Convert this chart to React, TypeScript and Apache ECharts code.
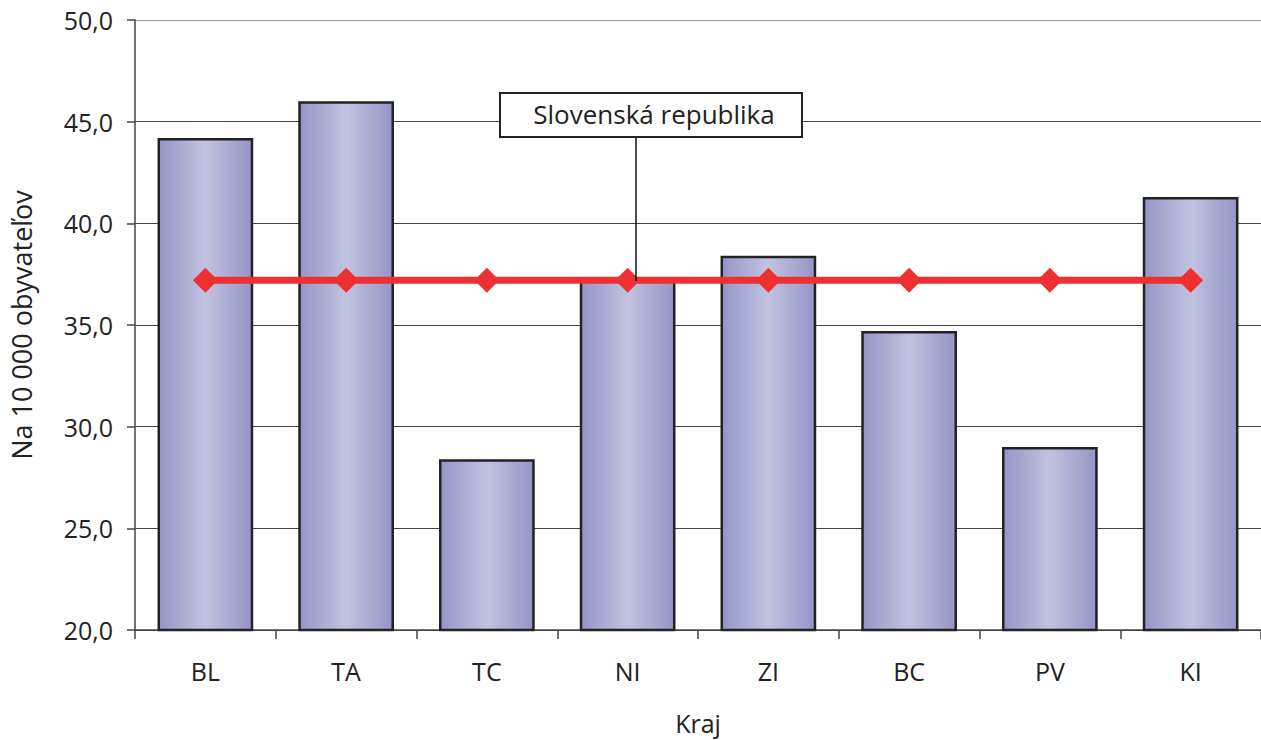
import React, { useEffect, useRef } from "react";
import * as echarts from "echarts";

const categories = ["BL", "TA", "TC", "NI", "ZI", "BC", "PV", "KI"];
const regionValues = [44.2, 46.0, 28.4, 37.3, 38.4, 34.7, 29.0, 41.3];
const slovakiaValue = 37.2;
const slovakiaValues = categories.map(() => slovakiaValue);
const annotationLabel = "Slovenská republika";

const FONT = "'Open Sans', 'Noto Sans', sans-serif";

export default function App() {
  const ref = useRef<HTMLDivElement>(null);
  useEffect(() => {
    if (!ref.current) return;
    document.body.style.margin = "0";
    const chart = echarts.init(ref.current, null, { renderer: "svg" });
    const barGradient = new echarts.graphic.LinearGradient(0, 0, 1, 0, [
      { offset: 0, color: "#9495c7" },
      { offset: 0.5, color: "#c2c2e0" },
      { offset: 1, color: "#9495c7" },
    ]);
    chart.setOption({
      animation: false,
      backgroundColor: "#ffffff",
      grid: { left: 134, right: 0, top: 20, bottom: 108, containLabel: false },
      xAxis: {
        type: "category",
        data: categories,
        name: "Kraj",
        nameLocation: "middle",
        nameGap: 80,
        nameTextStyle: { fontFamily: FONT, fontSize: 25, color: "#222" },
        axisLine: { show: true, lineStyle: { color: "#444", width: 1.5 } },
        axisTick: { show: true, alignWithLabel: false, length: 9, lineStyle: { color: "#444", width: 1.5 } },
        axisLabel: { fontFamily: FONT, fontSize: 25, color: "#222", margin: 28 },
        splitLine: { show: false },
      },
      yAxis: {
        type: "value",
        min: 20,
        max: 50,
        interval: 5,
        name: "Na 10 000 obyvateľov",
        nameLocation: "middle",
        nameGap: 100,
        nameTextStyle: { fontFamily: FONT, fontSize: 27, color: "#222" },
        axisLine: { show: true, lineStyle: { color: "#444", width: 1.5 } },
        axisTick: { show: true, length: 8, lineStyle: { color: "#444", width: 1.5 } },
        axisLabel: {
          fontFamily: FONT,
          fontSize: 25,
          color: "#222",
          margin: 22,
          formatter: (v: number) => v.toFixed(1).replace(".", ","),
        },
        splitLine: {
          show: true,
          lineStyle: {
            color: ["#444", "#444", "#444", "#444", "#444", "#444", "#999"],
            width: 1,
          },
        },
      },
      series: [
        {
          type: "bar",
          data: regionValues,
          barCategoryGap: "32%",
          itemStyle: { color: barGradient, borderColor: "#222", borderWidth: 2.5 },
          z: 2,
        },
        {
          type: "line",
          data: slovakiaValues,
          symbol: "diamond",
          symbolSize: [25, 25],
          lineStyle: { color: "#ee3030", width: 7 },
          itemStyle: { color: "#ee3030" },
          z: 3,
        },
      ],
      graphic: [
        {
          type: "line",
          shape: { x1: 636, y1: 137, x2: 636, y2: 281 },
          style: { stroke: "#111", lineWidth: 1.5 },
          z: 10,
        },
        {
          type: "rect",
          shape: { x: 500, y: 93, width: 302, height: 44 },
          style: { fill: "#fff", stroke: "#222", lineWidth: 2 },
          z: 10,
        },
        {
          type: "text",
          x: 654,
          y: 114,
          style: {
            text: annotationLabel,
            fontFamily: FONT,
            fontSize: 26,
            fill: "#222",
            align: "center",
            verticalAlign: "middle",
          },
          z: 11,
        },
      ],
    });
    return () => chart.dispose();
  }, []);
  return <div ref={ref} style={{ width: 1261, height: 740 }} />;
}
